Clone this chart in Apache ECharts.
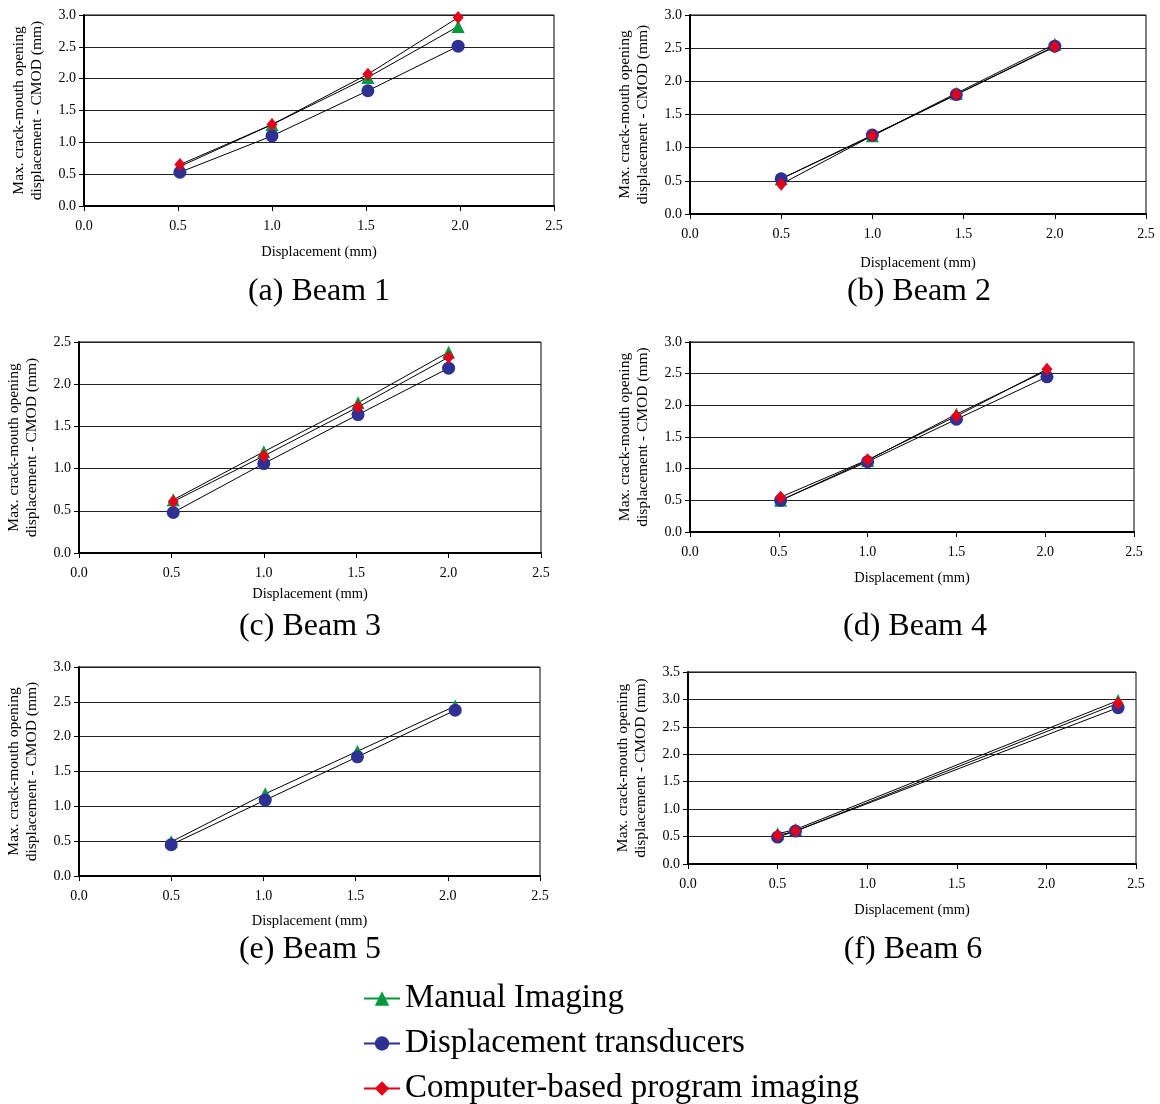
<!DOCTYPE html>
<html>
<head>
<meta charset="utf-8">
<script src="https://cdn.jsdelivr.net/npm/echarts@6/dist/echarts.min.js"></script>
<style>
  html, body { margin: 0; padding: 0; background: #fff; }
  #main { width: 1160px; height: 1104px; }
</style>
</head>
<body>
<div id="main"></div>
<script>
// displacement (mm) at which each beam was measured
var beamX = [
    [0.51, 1.0, 1.51, 1.99],
    [0.5, 1.0, 1.46, 2.0],
    [0.51, 1.0, 1.51, 2.0],
    [0.51, 1.0, 1.5, 2.01],
    [0.5, 1.01, 1.51, 2.04],
    [0.5, 0.6, 2.4]
];
// CMOD (mm) per method
var manualImaging = [
    [0.62, 1.28, 2.02, 2.82],
    [0.53, 1.18, 1.82, 2.56],
    [0.63, 1.20, 1.78, 2.38],
    [0.50, 1.13, 1.86, 2.55],
    [0.49, 1.18, 1.79, 2.44],
    [0.55, 0.63, 2.98]
];
var transducers = [
    [0.53, 1.10, 1.81, 2.51],
    [0.53, 1.19, 1.80, 2.53],
    [0.48, 1.06, 1.64, 2.19],
    [0.50, 1.11, 1.78, 2.45],
    [0.45, 1.09, 1.71, 2.38],
    [0.49, 0.60, 2.85]
];
var computerImaging = [
    [0.65, 1.28, 2.07, 2.96],
    [0.45, 1.18, 1.80, 2.52],
    [0.61, 1.15, 1.73, 2.32],
    [0.55, 1.14, 1.83, 2.57],
    null,
    [0.52, 0.60, 2.93]
];
var yMax = [3.0, 3.0, 2.5, 3.0, 3.0, 3.5];
var captions = ['(a) Beam 1', '(b) Beam 2', '(c) Beam 3', '(d) Beam 4', '(e) Beam 5', '(f) Beam 6'];

// panel layout (px)
var panels = [
    { left: 84, top: 15, width: 470, height: 191, xGap: 39, capX: 319, capY: 292 },
    { left: 690, top: 15, width: 456, height: 199, xGap: 42, capX: 919, capY: 292 },
    { left: 79, top: 342, width: 462, height: 211, xGap: 34, capX: 310, capY: 627 },
    { left: 690, top: 342, width: 444, height: 190, xGap: 39, capX: 915, capY: 627 },
    { left: 79, top: 667, width: 461, height: 209, xGap: 38, capX: 310, capY: 950 },
    { left: 688, top: 672, width: 448, height: 192, xGap: 39, capX: 913, capY: 950 }
];

var FONT = 'Liberation Serif';
var methods = [
    { name: 'Manual Imaging', data: manualImaging, symbol: 'triangle', size: 13, color: '#009a3d' },
    { name: 'Displacement transducers', data: transducers, symbol: 'circle', size: 13, color: '#2e3192' },
    { name: 'Computer-based program imaging', data: computerImaging, symbol: 'diamond', size: [11, 13], color: '#e2001a' }
];

function fmt(v) { return v.toFixed(1); }

var myChart = echarts.init(document.getElementById('main'));

var series = [];
panels.forEach(function (p, i) {
    methods.forEach(function (m) {
        var ys = m.data[i];
        if (!ys) return;
        series.push({
            name: m.name,
            type: 'line',
            xAxisIndex: i,
            yAxisIndex: i,
            symbol: m.symbol,
            symbolSize: m.size,
            showAllSymbol: true,
            itemStyle: { color: m.color },
            lineStyle: { color: '#000', width: 1 },
            data: ys.map(function (y, k) { return [beamX[i][k], y]; })
        });
    });
});

var option = {
    backgroundColor: '#fff',
    animation: false,
    grid: panels.map(function (p) {
        return {
            left: p.left, top: p.top, width: p.width, height: p.height,
            show: true, borderColor: '#000', borderWidth: 1, backgroundColor: '#fff'
        };
    }),
    xAxis: panels.map(function (p, i) {
        return {
            gridIndex: i, type: 'value', min: 0, max: 2.5, interval: 0.5,
            name: 'Displacement (mm)', nameLocation: 'middle', nameGap: p.xGap,
            nameTextStyle: { fontFamily: FONT, fontSize: 14.5, color: '#000' },
            axisLine: { onZero: false, lineStyle: { color: '#000', width: 2 } },
            axisTick: { show: true, length: 5, lineStyle: { color: '#000' } },
            axisLabel: { formatter: fmt, fontFamily: FONT, fontSize: 14, color: '#000', margin: 13 },
            splitLine: { show: false }
        };
    }),
    yAxis: panels.map(function (p, i) {
        return {
            gridIndex: i, type: 'value', min: 0, max: yMax[i], interval: 0.5,
            name: 'Max. crack-mouth opening\ndisplacement - CMOD (mm)',
            nameLocation: 'middle', nameGap: 38, nameRotate: 90,
            nameTextStyle: { fontFamily: FONT, fontSize: 15.5, lineHeight: 18, color: '#000' },
            axisLine: { lineStyle: { color: '#000', width: 2 } },
            axisTick: { show: true, length: 5, lineStyle: { color: '#000' } },
            axisLabel: { formatter: fmt, fontFamily: FONT, fontSize: 14, color: '#000', margin: 8 },
            splitLine: { show: true, lineStyle: { color: '#222', width: 1 } }
        };
    }),
    // one legend per row so the rows don't wrap into columns
    legend: methods.map(function (m, k) {
        return {
            orient: 'vertical',
            left: 358,
            top: 977 + k * 45,
            itemWidth: 36,
            itemHeight: 18,
            selectedMode: false,
            textStyle: { fontFamily: FONT, fontSize: 33, color: '#000' },
            data: [{ name: m.name, lineStyle: { color: m.color, width: 2 } }]
        };
    }),
    graphic: panels.map(function (p, i) {
        return {
            type: 'text', x: p.capX, y: p.capY,
            style: {
                text: captions[i], fontFamily: FONT, fontSize: 32, fill: '#000',
                textAlign: 'center', textVerticalAlign: 'middle'
            }
        };
    }),
    series: series
};

myChart.setOption(option);
</script>
</body>
</html>
